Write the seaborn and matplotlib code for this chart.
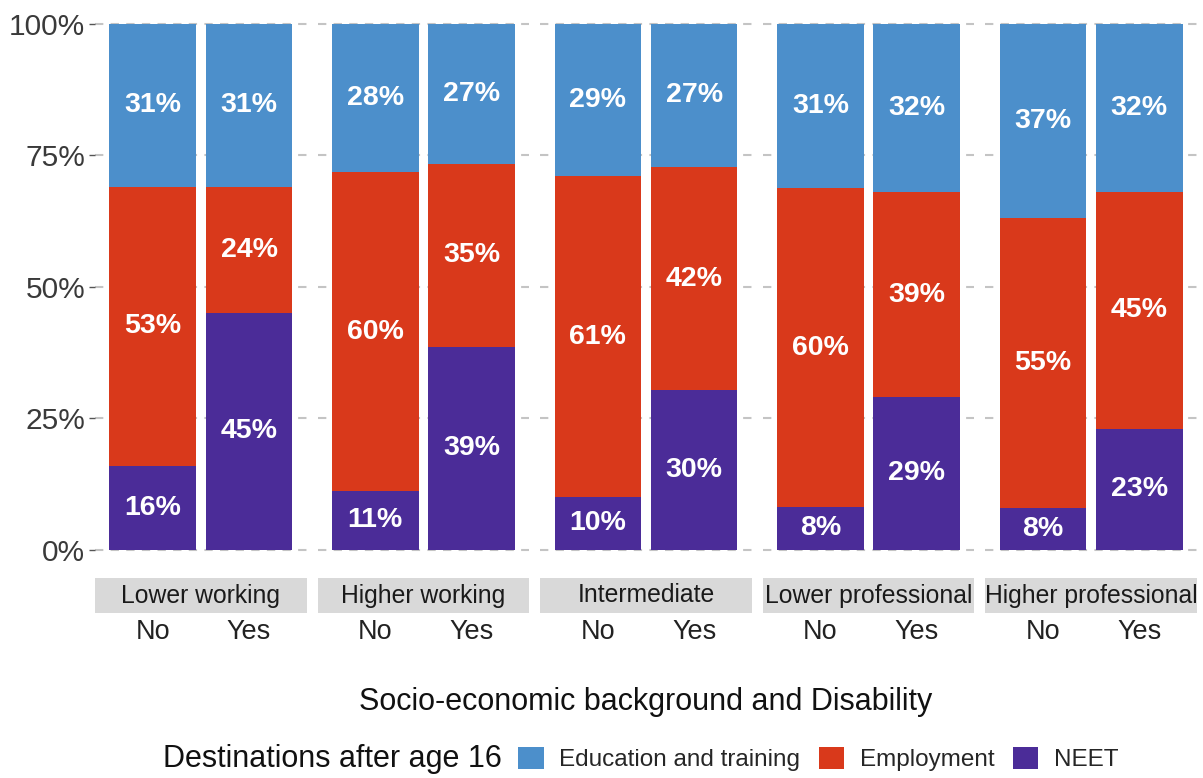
import numpy as np
import pandas as pd
import matplotlib.pyplot as plt
import seaborn as sns
from matplotlib.patches import Rectangle
from matplotlib.ticker import PercentFormatter

# data (percent of each bar)
backgrounds = ["Lower working", "Higher working", "Intermediate",
               "Lower professional", "Higher professional"]
disability = ["No", "Yes"]
destinations = ["Education and training", "Employment", "NEET"]
educ = [31, 31, 28, 27, 29, 27, 31, 32, 37, 32]
employ = [53, 24, 60, 35, 61, 42, 60, 39, 55, 45]
neet = [16, 45, 11, 39, 10, 30, 8, 29, 8, 23]
colors = ["#4C8FCB", "#D9391B", "#4B2C98"]

# build long table, stack as fill (NEET at bottom)
rows = []
for i, bg in enumerate(backgrounds):
    for j, dis in enumerate(disability):
        k = i * 2 + j
        vals = {"NEET": neet[k], "Employment": employ[k],
                "Education and training": educ[k]}
        total = sum(vals.values())
        cum = 0
        for dest in ["NEET", "Employment", "Education and training"]:
            share = vals[dest] / total
            cum += share
            rows.append({"background": bg, "disability": dis, "dest": dest,
                         "pct": vals[dest], "share": share, "cum": cum,
                         "mid": cum - share / 2})
df = pd.DataFrame(rows)

sns.set_theme(style="white")
plt.rcParams["font.family"] = ["Liberation Sans", "DejaVu Sans"]

fig, axes = plt.subplots(1, 5, figsize=(12.03, 7.78), dpi=100, sharey=True)
fig.subplots_adjust(left=95 / 1203, right=1197 / 1203, top=1.0,
                    bottom=1 - 576 / 778, wspace=0.051)

handles = None
for i, (ax, bg) in enumerate(zip(axes, backgrounds)):
    sub = df[df["background"] == bg]
    sns.barplot(data=sub, x="disability", y="cum", hue="dest",
                hue_order=destinations, order=disability,
                palette=colors, dodge=False, width=0.9, saturation=1,
                linewidth=0, ax=ax)
    if handles is None:
        handles, labels = ax.get_legend_handles_labels()
    ax.get_legend().remove()

    # percentage labels in the middle of each segment
    for _, r in sub.iterrows():
        xpos = disability.index(r["disability"])
        ax.text(xpos, r["mid"], f"{r['pct']}%", ha="center", va="center",
                color="white", fontsize=20.5, fontweight="bold")

    ax.set_xlim(-0.6, 1.6)
    ax.set_ylim(-0.05, 1.045)
    ax.set_yticks([0, 0.25, 0.5, 0.75, 1])
    ax.yaxis.set_major_formatter(PercentFormatter(1, decimals=0))
    ax.set_xlabel("")
    ax.set_ylabel("")
    ax.yaxis.grid(True, linestyle=(0, (4, 3.5)), color="#c4c4c4", linewidth=1.5)
    ax.xaxis.grid(False)
    ax.set_axisbelow(True)
    for s in ax.spines.values():
        s.set_visible(False)
    ax.tick_params(axis="x", length=0, pad=31, labelsize=19.5, labelcolor="#222222")
    if i == 0:
        ax.tick_params(axis="y", length=4, width=1, color="#555555", pad=3,
                       labelsize=21.5, labelcolor="#3a3a3a", left=True)
    else:
        ax.tick_params(axis="y", length=0)

    # facet strip under the panel
    strip = Rectangle((0, -37 / 576), 1, 35 / 576, transform=ax.transAxes,
                      facecolor="#D9D9D9", edgecolor="none", clip_on=False)
    ax.add_patch(strip)
    ax.text(0.5, -19.5 / 576, bg, transform=ax.transAxes, ha="center",
            va="center", fontsize=17.8, color="#1a1a1a")

fig.text(646 / 1203, 1 - 702 / 778, "Socio-economic background and Disability",
         ha="center", va="center", fontsize=22, color="#111111")

fig.text(502 / 1203, 1 - 759 / 778, "Destinations after age 16",
         ha="right", va="center", fontsize=22, color="#111111")
fig.legend(handles, labels, loc="center left",
           bbox_to_anchor=(518 / 1203, 1 - 759 / 778), ncol=3, frameon=False,
           fontsize=17.5, handlelength=1.05, handleheight=1.05,
           handletextpad=0.65, columnspacing=0.75, borderpad=0,
           borderaxespad=0)

plt.savefig("out.png", dpi=100)
